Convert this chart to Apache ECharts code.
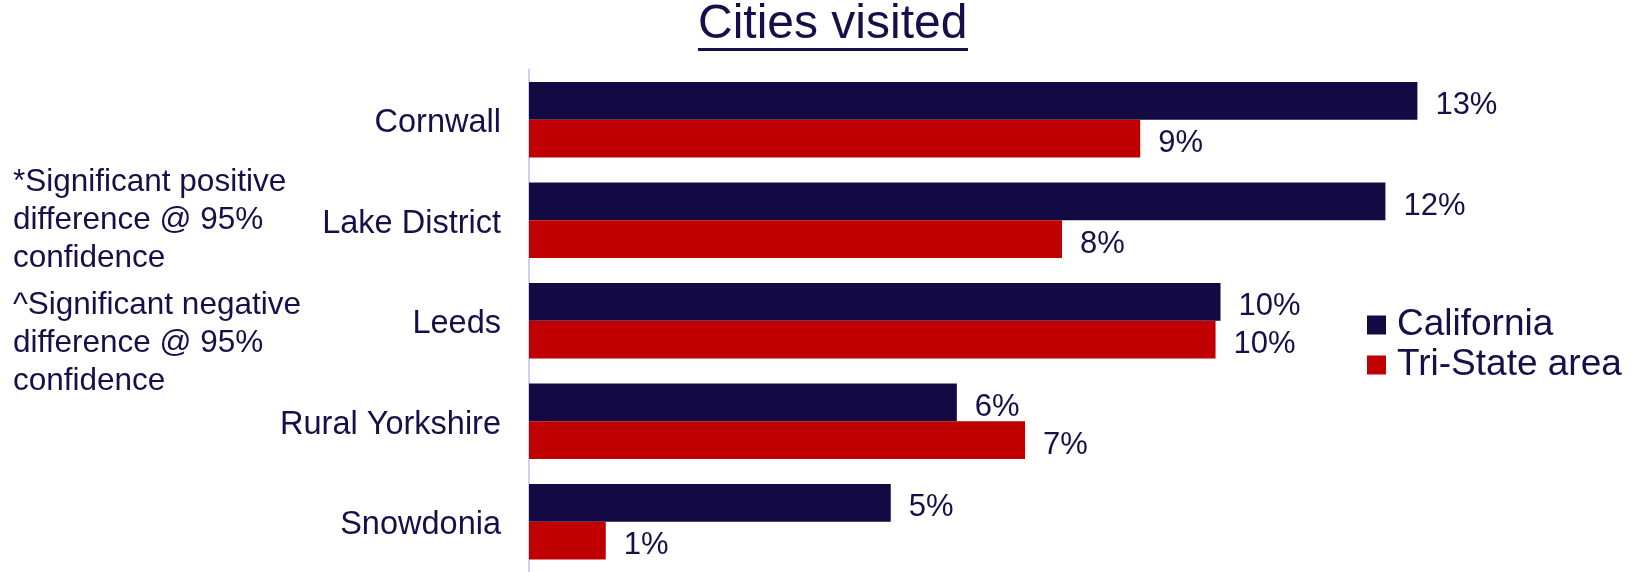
<!DOCTYPE html>
<html>
<head>
<meta charset="utf-8">
<title>Cities visited</title>
<script src="https://cdn.jsdelivr.net/npm/echarts@6/dist/echarts.min.js"></script>
<style>
    html, body { margin: 0; padding: 0; background: #fff; }
    #chart { width: 1634px; height: 572px; }
</style>
</head>
<body>
<div id="chart"></div>
<script>
// data
var categories = ['Cornwall', 'Lake District', 'Leeds', 'Rural Yorkshire', 'Snowdonia'];
var california = [12.5, 12.05, 9.73, 6.02, 5.09];
var triState = [8.6, 7.5, 9.66, 6.98, 1.08];
var notes = [
    '*Significant positive\ndifference @ 95%\nconfidence',
    '^Significant negative\ndifference @ 95%\nconfidence'
];

var navy = '#130a44';
var red = '#c00000';
var textColor = '#15104a';
var font = '"Liberation Sans", Arial, sans-serif';

var myChart = echarts.init(document.getElementById('chart'));

var labelOpt = {
    show: true,
    position: 'right',
    distance: 18,
    offset: [0, 5],
    color: textColor,
    fontFamily: font,
    fontSize: 31,
    formatter: function (p) {
        return Math.round(p.value) + '%';
    }
};

option = {
    backgroundColor: '#fff',
    animation: false,
    legend: {
        orient: 'vertical',
        left: 1367,
        top: 305,
        padding: 0,
        itemWidth: 19,
        itemHeight: 19,
        itemGap: 0,
        icon: 'rect',
        textStyle: {
            color: textColor,
            fontFamily: font,
            fontSize: 37,
            lineHeight: 40,
            padding: [0, 0, 0, 6]
        },
        data: ['California', 'Tri-State area']
    },
    grid: {
        left: 529,
        width: 995,
        top: 69.5,
        height: 505
    },
    xAxis: {
        type: 'value',
        min: 0,
        max: 14,
        show: false
    },
    yAxis: {
        type: 'category',
        inverse: true,
        data: categories,
        axisTick: {show: false},
        axisLine: {
            show: true,
            lineStyle: {color: '#cfcff5', width: 2}
        },
        axisLabel: {
            margin: 28,
            formatter: function (v) {
                return '{c|' + v + '}';
            },
            rich: {
                c: {
                    color: textColor,
                    fontFamily: font,
                    fontSize: 32.5,
                    padding: [7, 0, 0, 0]
                }
            }
        }
    },
    series: [
        {
            name: 'California',
            type: 'bar',
            data: california,
            barGap: '0%',
            barCategoryGap: '25%',
            itemStyle: {color: navy},
            label: labelOpt
        },
        {
            name: 'Tri-State area',
            type: 'bar',
            data: triState,
            itemStyle: {color: red},
            label: labelOpt
        }
    ],
    graphic: [
        {
            type: 'text',
            left: 698,
            top: 1,
            style: {
                text: 'Cities visited',
                fill: textColor,
                font: '48px ' + font
            }
        },
        {
            type: 'rect',
            shape: {x: 698, y: 48, width: 270, height: 3},
            style: {fill: textColor}
        },
        {
            type: 'text',
            left: 13,
            top: 163,
            style: {
                text: notes[0],
                fill: textColor,
                font: '31.5px ' + font,
                lineHeight: 38
            }
        },
        {
            type: 'text',
            left: 13,
            top: 286,
            style: {
                text: notes[1],
                fill: textColor,
                font: '31.5px ' + font,
                lineHeight: 38
            }
        }
    ]
};

myChart.setOption(option);
</script>
</body>
</html>
